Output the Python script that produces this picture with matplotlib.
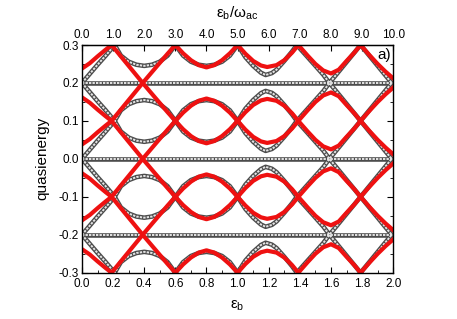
import numpy as np
import matplotlib
matplotlib.use('Agg')
import matplotlib.pyplot as plt
from matplotlib.ticker import MultipleLocator

plt.rcParams['font.family'] = ['Liberation Sans', 'DejaVu Sans']
plt.rcParams['mathtext.fontset'] = 'custom'
plt.rcParams['mathtext.rm'] = 'Liberation Sans'

OMEGA_AC = 0.2

## red branch, one fold in [0, 0.1]
## every other red curve is +-f + k*omega
x_red = [0.00, 0.05, 0.10, 0.15, 0.19, 0.25, 0.30, 0.35, 0.39, 0.45,
         0.50, 0.55, 0.60, 0.65, 0.70, 0.75, 0.80, 0.85, 0.90, 0.95,
         1.00, 1.05, 1.10, 1.15, 1.19, 1.25, 1.30, 1.35, 1.39, 1.45,
         1.50, 1.55, 1.60, 1.65, 1.70, 1.75, 1.79, 1.85, 1.90, 1.95, 2.00]
f_red = [0.038, 0.052, 0.070, 0.087, 0.100, 0.070, 0.045, 0.020, 0.000, 0.029,
         0.053, 0.077, 0.100, 0.078, 0.060, 0.047, 0.041, 0.047, 0.060, 0.078,
         0.100, 0.077, 0.058, 0.046, 0.042, 0.047, 0.060, 0.080, 0.100, 0.072,
         0.050, 0.033, 0.025, 0.035, 0.058, 0.080, 0.100, 0.072, 0.050, 0.030, 0.012]

## grey (open circle) branch, same folding
x_grey = [0.00, 0.05, 0.10, 0.15, 0.21, 0.25, 0.30, 0.35, 0.40, 0.45,
          0.50, 0.55, 0.60, 0.65, 0.70, 0.75, 0.80, 0.85, 0.90, 0.95,
          1.00, 1.05, 1.10, 1.15, 1.18, 1.22, 1.25, 1.30, 1.35, 1.38,
          1.45, 1.50, 1.55, 1.59, 1.65, 1.70, 1.75, 1.79, 1.85, 1.90, 1.95, 1.99]
g_grey = [0.000, 0.024, 0.048, 0.071, 0.100, 0.072, 0.056, 0.048, 0.045, 0.048,
          0.056, 0.072, 0.100, 0.072, 0.056, 0.048, 0.045, 0.048, 0.056, 0.072,
          0.100, 0.068, 0.045, 0.027, 0.021, 0.026, 0.035, 0.058, 0.083, 0.100,
          0.068, 0.045, 0.022, 0.000, 0.030, 0.055, 0.080, 0.100, 0.070, 0.045, 0.020, 0.000]

## flat grey levels
flat_levels = [-0.2, 0.0, 0.2]

top_ticks = [0, 1, 2, 3, 4, 5, 6, 7, 8, 9, 10]

x_red = np.array(x_red)
f_red = np.array(f_red)
x_grey = np.array(x_grey)
g_grey = np.array(g_grey)

fig = plt.figure(figsize=(4.57, 3.19), dpi=100)
ax = fig.add_axes([0.1794, 0.1451, 0.6811, 0.7138])

## grey circles look: dark tube with a dotted light core
def grey_tube(xs, ys):
    ax.plot(xs, ys, color='#4c4c4c', lw=3.3, solid_capstyle='butt', zorder=2)
    ax.plot(xs, ys, color='#e4e4e4', lw=1.4, ls=(0, (1.2, 0.6)), zorder=2.1)

for lvl in flat_levels:
    ax.axhline(lvl, color='#4c4c4c', lw=3.3, zorder=2)
    ax.axhline(lvl, color='#e4e4e4', lw=1.4, ls=(0, (1.2, 0.6)), zorder=2.1)

for k in range(-2, 3):
    for s in (1, -1):
        grey_tube(x_grey, s * g_grey + k * OMEGA_AC)

for k in range(-2, 3):
    for s in (1, -1):
        ax.plot(x_red, s * f_red + k * OMEGA_AC, color='#ee1111', lw=3.0, zorder=3)

ax.set_xlim(0, 2.0)
ax.set_ylim(-0.3, 0.3)
ax.xaxis.set_major_locator(MultipleLocator(0.2))
ax.xaxis.set_minor_locator(MultipleLocator(0.1))
ax.yaxis.set_major_locator(MultipleLocator(0.1))
ax.yaxis.set_minor_locator(MultipleLocator(0.05))
ax.xaxis.set_major_formatter(lambda v, p: f'{v:.1f}')
ax.yaxis.set_major_formatter(lambda v, p: f'{v:.1f}')
ax.tick_params(which='both', direction='in', right=True, labelsize=8.5)
ax.tick_params(axis='x', pad=4)
ax.tick_params(axis='y', pad=2)
ax.tick_params(which='major', length=4)
ax.tick_params(which='minor', length=2)
for sp in ax.spines.values():
    sp.set_linewidth(1.0)
    sp.set_zorder(4)

ax.set_xlabel(r'$\mathregular{ε_b}$', fontsize=11, labelpad=6)
ax.set_ylabel('quasienergy', fontsize=11, labelpad=7)

top = ax.secondary_xaxis('top', functions=(lambda x: x / OMEGA_AC, lambda x: x * OMEGA_AC))
top.set_xticks(top_ticks)
top.xaxis.set_major_formatter(lambda v, p: f'{v:.1f}')
top.tick_params(direction='in', length=4, labelsize=8.5, pad=3)
top.set_xlabel(r'$\mathregular{ε_b/ω_{ac}}$', fontsize=11, labelpad=8)

ax.text(1.94, 0.274, 'a)', fontsize=11, ha='center', va='center')

fig.savefig('out.png', dpi=100)
